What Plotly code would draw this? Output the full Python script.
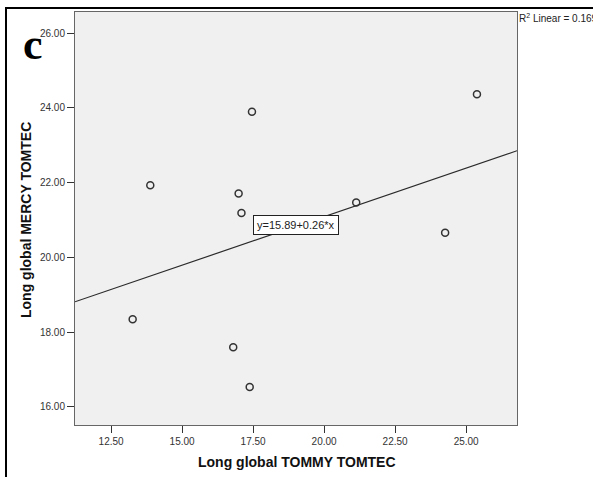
import plotly.graph_objects as go

# Scatter of the two TOMTEC measurements with a linear fit
tommy = [13.26, 13.88, 16.80, 16.99, 17.09, 17.38, 17.46, 21.13, 24.26, 25.38]
mercy = [18.34, 21.93, 17.59, 21.71, 21.19, 16.53, 23.90, 21.47, 20.66, 24.37]

fit_intercept = 15.89
fit_slope = 0.26
r_squared = 0.169

x_ticks = [12.5, 15.0, 17.5, 20.0, 22.5, 25.0]
y_ticks = [16.0, 18.0, 20.0, 22.0, 24.0, 26.0]
x_range = [11.23, 26.79]
y_range = [15.51, 26.57]

W, H = 593, 477
L, R, T, B = 75, 76, 12, 52
pw, ph = W - L - R, H - T - B

def px_x(p):
    return (p - L) / pw

def px_y(p):
    return (H - B - p) / ph

fig = go.Figure()

fit_x = list(x_range)
fit_y = [fit_intercept + fit_slope * v for v in fit_x]
fig.add_trace(go.Scatter(
    x=fit_x, y=fit_y, mode="lines",
    line=dict(color="#2b2b2b", width=1.2),
    hoverinfo="skip", showlegend=False,
))

fig.add_trace(go.Scatter(
    x=tommy, y=mercy, mode="markers",
    marker=dict(symbol="circle-open", size=7, color="#333333",
                line=dict(width=1.5, color="#333333")),
    showlegend=False,
))

axis_common = dict(
    showgrid=False, zeroline=False, showline=True, mirror=True,
    linecolor="#666666", linewidth=1,
    ticks="outside", ticklen=7, tickcolor="#333333", tickwidth=1,
    tickfont=dict(family="Liberation Sans, Arial, sans-serif", size=10, color="#333333"),
)

fig.update_xaxes(range=x_range, tickvals=x_ticks,
                 ticktext=[f"{v:.2f}" for v in x_ticks], **axis_common)
fig.update_yaxes(range=y_range, tickvals=y_ticks,
                 ticktext=[f"{v:.2f}" for v in y_ticks], **axis_common)

title_font = dict(family="Liberation Sans, Arial, sans-serif", size=14, color="#111111")

annotations = [
    dict(text="<b>Long global TOMMY TOMTEC</b>", xref="paper", yref="paper",
         x=px_x(297), y=px_y(462), xanchor="center", yanchor="middle",
         showarrow=False, font=title_font),
    dict(text="<b>Long global MERCY TOMTEC</b>", xref="paper", yref="paper",
         x=px_x(26), y=px_y(220), xanchor="center", yanchor="middle",
         textangle=-90, showarrow=False, font=title_font),
    dict(text="<b>c</b>", xref="paper", yref="paper",
         x=px_x(33), y=px_y(45), xanchor="center", yanchor="middle",
         showarrow=False,
         font=dict(family="Liberation Serif, Times New Roman, serif", size=44, color="#000000")),
    dict(text=f"R<sup>2</sup> Linear = {r_squared:.3f}", xref="paper", yref="paper",
         x=px_x(517), y=px_y(10), xanchor="left", yanchor="top",
         showarrow=False,
         font=dict(family="Liberation Sans, Arial, sans-serif", size=10, color="#222222")),
    dict(text=f"y={fit_intercept:.2f}+{fit_slope:.2f}*x", xref="x", yref="y",
         x=19.01, y=20.86, xanchor="center", yanchor="middle",
         showarrow=False, bgcolor="#ffffff", bordercolor="#222222", borderwidth=1,
         borderpad=3,
         font=dict(family="Liberation Sans, Arial, sans-serif", size=11, color="#222222")),
]

# outer panel frame running off the right and bottom edges
shapes = [
    dict(type="rect", xref="paper", yref="paper",
         x0=px_x(6), x1=px_x(W + 20), y0=px_y(H + 20), y1=px_y(8),
         line=dict(color="#000000", width=2), fillcolor="rgba(0,0,0,0)", layer="above"),
]

fig.update_layout(
    width=W, height=H,
    margin=dict(l=L, r=R, t=T, b=B),
    plot_bgcolor="#f0f0f0", paper_bgcolor="#ffffff",
    annotations=annotations, shapes=shapes,
)

fig.write_html("out.html")
